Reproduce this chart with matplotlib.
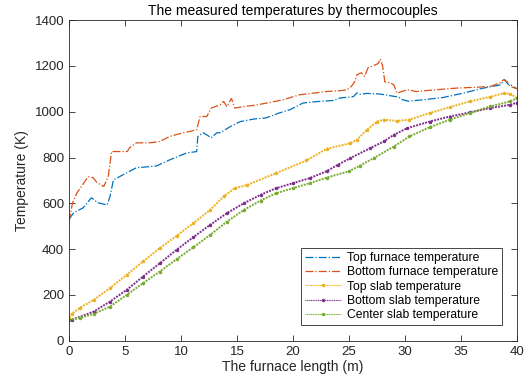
import matplotlib
matplotlib.use("Agg")
import matplotlib.pyplot as plt

plt.rcParams['font.family'] = ['Liberation Sans', 'DejaVu Sans']

top_furnace_x = [0, 0.4, 1.25, 2.0, 2.6, 3.4, 3.66, 3.96, 4.8, 6.0, 7.8, 9.0, 10.5, 11.4, 11.5, 12.0, 12.7, 13.2, 13.5, 14.4, 15.3, 16.5, 17.6, 18.8, 19.7, 20.9, 22.1, 23.6, 24.2, 25.4, 25.7, 26.0, 26.6, 27.8, 28.9, 29.4, 29.8, 30.3, 31.6, 33.4, 35.2, 37.0, 38.5, 38.9, 39.2, 39.5, 40]
top_furnace_t = [530, 558, 580, 624, 602, 593, 630, 702, 724, 755, 763, 790, 820, 826, 892, 908, 886, 908, 908, 935, 957, 968, 973, 995, 1008, 1038, 1044, 1049, 1060, 1066, 1082, 1076, 1080, 1077, 1068, 1064, 1052, 1046, 1052, 1062, 1081, 1103, 1117, 1140, 1120, 1115, 1100]

bottom_furnace_x = [0, 0.3, 0.7, 1.7, 2.15, 2.5, 3.1, 3.5, 3.8, 5.2, 5.4, 6.0, 7.2, 8.1, 9.0, 10.2, 10.7, 11.4, 11.7, 12.3, 12.7, 13.5, 13.8, 14.1, 14.5, 14.8, 15.6, 16.8, 17.9, 19.1, 20.6, 21.8, 23.0, 24.2, 24.8, 25.2, 25.5, 25.7, 26.1, 26.4, 26.7, 27.0, 27.6, 27.8, 28.0, 28.2, 28.7, 29.0, 29.3, 29.7, 30.2, 31.0, 32.8, 34.6, 36.4, 37.6, 38.5, 38.8, 39.1, 39.4, 40]
bottom_furnace_t = [520, 600, 645, 716, 712, 690, 673, 717, 826, 826, 842, 864, 864, 870, 892, 908, 913, 921, 979, 979, 1016, 1030, 1045, 1022, 1058, 1016, 1022, 1030, 1040, 1052, 1074, 1081, 1088, 1092, 1095, 1110, 1130, 1161, 1170, 1154, 1192, 1198, 1210, 1230, 1200, 1130, 1126, 1117, 1081, 1088, 1096, 1088, 1096, 1103, 1107, 1110, 1126, 1140, 1132, 1110, 1100]

top_slab_x = [0, 0.24, 1.0, 2.2, 3.66, 5.15, 6.6, 8.1, 9.6, 11.1, 12.6, 13.8, 14.8, 15.9, 18.5, 21.2, 23.0, 25.1, 25.7, 26.6, 27.5, 28.1, 29.3, 30.4, 32.2, 34.0, 35.8, 37.6, 38.8, 39.4, 40]
top_slab_t = [100, 117, 145, 178, 230, 288, 346, 404, 458, 513, 571, 630, 666, 680, 732, 787, 838, 862, 877, 921, 957, 965, 960, 965, 994, 1020, 1045, 1065, 1080, 1078, 1060]

bottom_slab_x = [0, 0.24, 2.2, 3.66, 5.15, 6.6, 8.1, 9.6, 11.1, 12.6, 14.1, 15.6, 17.1, 18.5, 20.0, 21.5, 23.0, 24.0, 25.1, 26.9, 28.1, 29.0, 30.2, 32.2, 34.0, 35.8, 37.6, 39.4, 40]
bottom_slab_t = [90, 91, 127, 171, 222, 280, 338, 397, 452, 506, 557, 600, 637, 666, 688, 710, 740, 768, 797, 841, 870, 899, 928, 957, 979, 997, 1016, 1030, 1040]

center_slab_x = [0, 1.0, 2.2, 3.66, 5.15, 6.6, 8.1, 9.6, 11.1, 12.6, 14.1, 15.6, 17.1, 18.5, 20.0, 21.5, 23.0, 25.0, 26.0, 27.2, 29.0, 30.4, 32.2, 34.0, 35.8, 37.6, 39.4, 40]
center_slab_t = [90, 100, 117, 149, 200, 251, 302, 356, 408, 462, 520, 571, 612, 644, 666, 688, 712, 740, 765, 797, 848, 892, 932, 965, 994, 1023, 1045, 1059]

labels = ["Top furnace temperature", "Bottom furnace temperature",
          "Top slab temperature", "Bottom slab temperature", "Center slab temperature"]
colors = ["#0072BD", "#D95319", "#EDB120", "#7E2F8E", "#77AC30"]

fig = plt.figure(figsize=(5.27, 3.79), dpi=100)
ax = fig.add_axes([0.131, 0.101, 0.850, 0.846])

ax.plot(top_furnace_x, top_furnace_t, ls='-.', color=colors[0], lw=0.9, label=labels[0])
ax.plot(bottom_furnace_x, bottom_furnace_t, ls='-.', color=colors[1], lw=0.9, label=labels[1])
for xs, ts, c, l in [(top_slab_x, top_slab_t, colors[2], labels[2]),
                     (bottom_slab_x, bottom_slab_t, colors[3], labels[3]),
                     (center_slab_x, center_slab_t, colors[4], labels[4])]:
    ax.plot(xs, ts, ls=(0, (1, 0.6)), color=c, lw=1.4, marker='.', ms=3, label=l)

ax.set_xlim(0, 40)
ax.set_ylim(0, 1400)
ax.set_xticks(range(0, 41, 5))
ax.set_yticks(range(0, 1401, 200))
ax.tick_params(direction='in', top=True, right=True, labelsize=9.5, colors='#262626', length=4, width=0.6)
for s in ax.spines.values():
    s.set_color('#262626')
    s.set_linewidth(0.6)

ax.set_title("The measured temperatures by thermocouples", fontsize=10, color='black', pad=4)
ax.set_xlabel("The furnace length (m)", fontsize=10, color='#262626', labelpad=2)
ax.set_ylabel("Temperature (K)", fontsize=10, color='#262626', labelpad=4)

leg = ax.legend(loc='lower right', fontsize=8.7, numpoints=1, handlelength=3.0,
                fancybox=False, framealpha=1, edgecolor='#262626',
                borderpad=0.3, labelspacing=0.2, handletextpad=0.5,
                bbox_to_anchor=(0.98, 0.03))
leg.get_frame().set_linewidth(0.6)
for h in leg.legend_handles[2:]:
    h.set_linewidth(0.8)

fig.savefig("out.png", dpi=100)
